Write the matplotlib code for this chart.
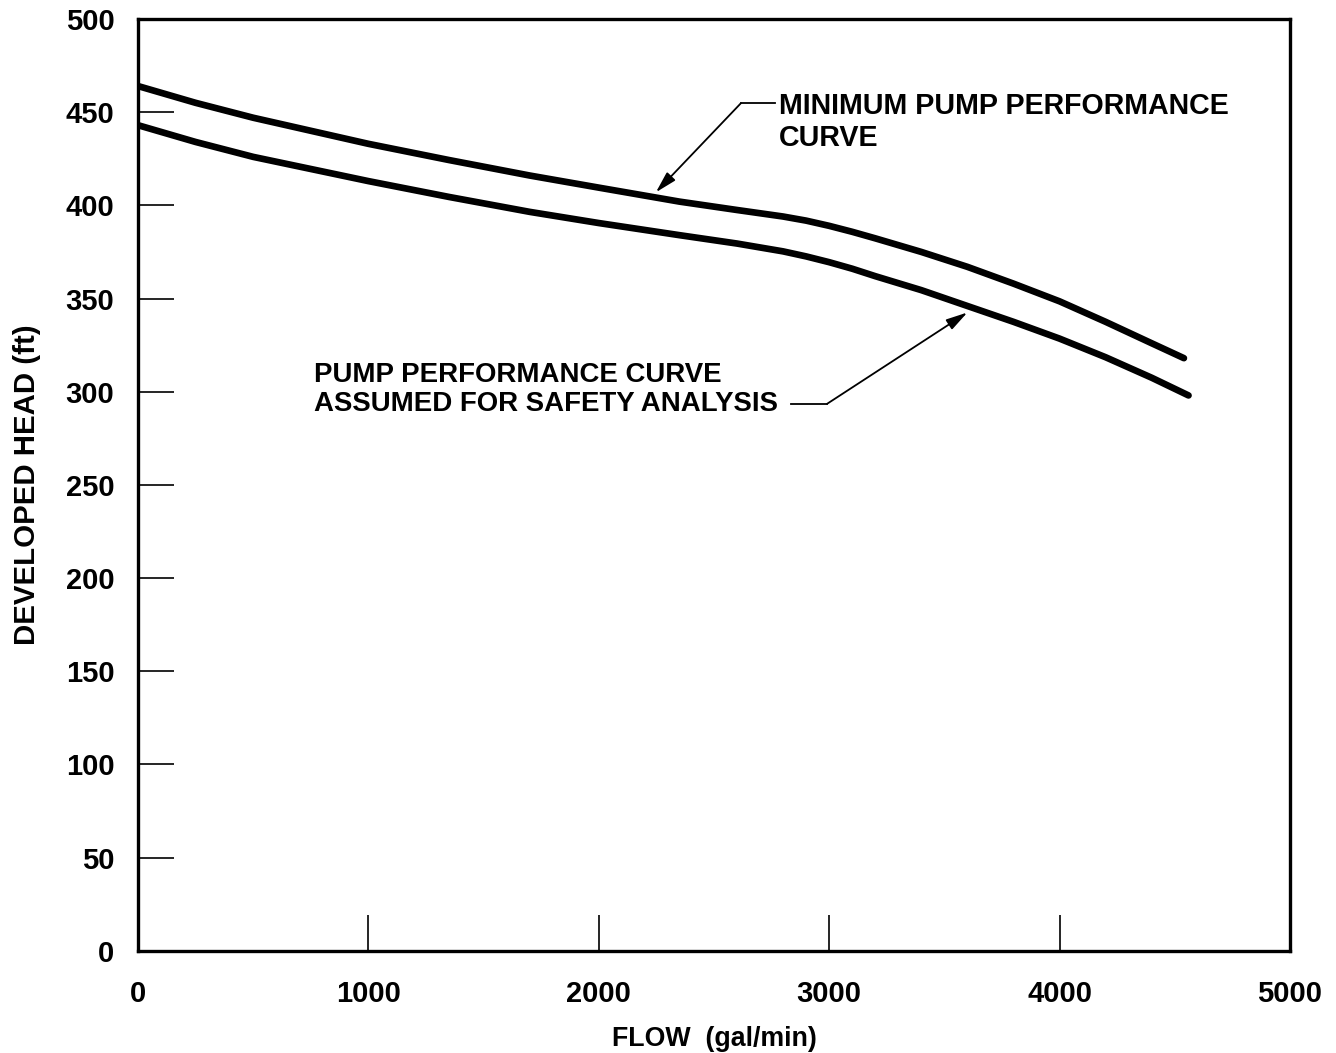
import matplotlib
matplotlib.use('Agg')
from matplotlib import pyplot as plt

plt.rcParams['font.family'] = ['Liberation Sans', 'DejaVu Sans']
plt.rcParams['font.weight'] = 'bold'

# values
min_flow = [0, 250, 500, 1000, 1350, 1700, 2000, 2350, 2600, 2800, 2900, 3000, 3100, 3200,
            3400, 3600, 3800, 4000, 4200, 4400, 4540]
min_head = [464, 455, 447, 433, 424.3, 416, 409.5, 402, 397.5, 394, 391.8, 389, 385.8, 382.3,
            375, 367, 358, 348.5, 337.5, 326, 318]

safety_flow = [0, 250, 500, 1000, 1350, 1700, 2000, 2350, 2600, 2800, 2900, 3000, 3100, 3200,
               3400, 3600, 3800, 4000, 4200, 4400, 4560]
safety_head = [443, 434, 426, 413, 404.5, 396.5, 390.5, 384, 379.5, 375.3, 372.6, 369.5, 366, 362,
               354.5, 346, 337.5, 328.5, 318.5, 307.5, 298]

x_ticks = [0, 1000, 2000, 3000, 4000, 5000]
y_ticks = [0, 50, 100, 150, 200, 250, 300, 350, 400, 450, 500]

fig = plt.figure(figsize=(13.36, 10.53), dpi=100)
ax = fig.add_axes([0.1033, 0.097, 0.8622, 0.885])

ax.plot(min_flow, min_head, color='black', lw=4.8, solid_capstyle='round', solid_joinstyle='round')
ax.plot(safety_flow, safety_head, color='black', lw=4.8, solid_capstyle='round', solid_joinstyle='round')

ax.set_xlim(0, 5000)
ax.set_ylim(0, 500)
ax.set_xticks(x_ticks)
ax.set_yticks(y_ticks)
ax.tick_params(direction='in', length=26, width=1.2, labelsize=21)
ax.tick_params(axis='y', pad=17)
ax.tick_params(axis='x', pad=21)
for lab in ax.get_xticklabels() + ax.get_yticklabels():
    lab.set_fontweight('bold')
for sp in ax.spines.values():
    sp.set_linewidth(2.4)

ax.set_xlabel('FLOW  (gal/min)', fontsize=19.3, fontweight='bold', labelpad=13)
ax.set_ylabel('DEVELOPED HEAD (ft)', fontsize=21.2, fontweight='bold', labelpad=18)

arrow_style = dict(arrowstyle='-|>,head_length=1.3,head_width=0.35', color='black',
                   lw=1.3, shrinkA=0, shrinkB=0)

# annotations
ax.text(2783, 461, 'MINIMUM PUMP PERFORMANCE\nCURVE', fontsize=20.6, fontweight='bold',
        va='top', ha='left', linespacing=1.2)
ax.plot([2617, 2765], [454.8, 454.8], color='black', lw=1.3)
ax.annotate('', xy=(2248, 407), xytext=(2617, 454.8), arrowprops=arrow_style)

ax.text(765, 316, 'PUMP PERFORMANCE CURVE\nASSUMED FOR SAFETY ANALYSIS', fontsize=19.9,
        fontweight='bold', va='top', ha='left', linespacing=1.14)
ax.plot([2835, 2991], [293.5, 293.5], color='black', lw=1.3)
ax.annotate('', xy=(3600, 342.5), xytext=(2991, 293.5), arrowprops=arrow_style)

fig.savefig('out.png', dpi=100)
